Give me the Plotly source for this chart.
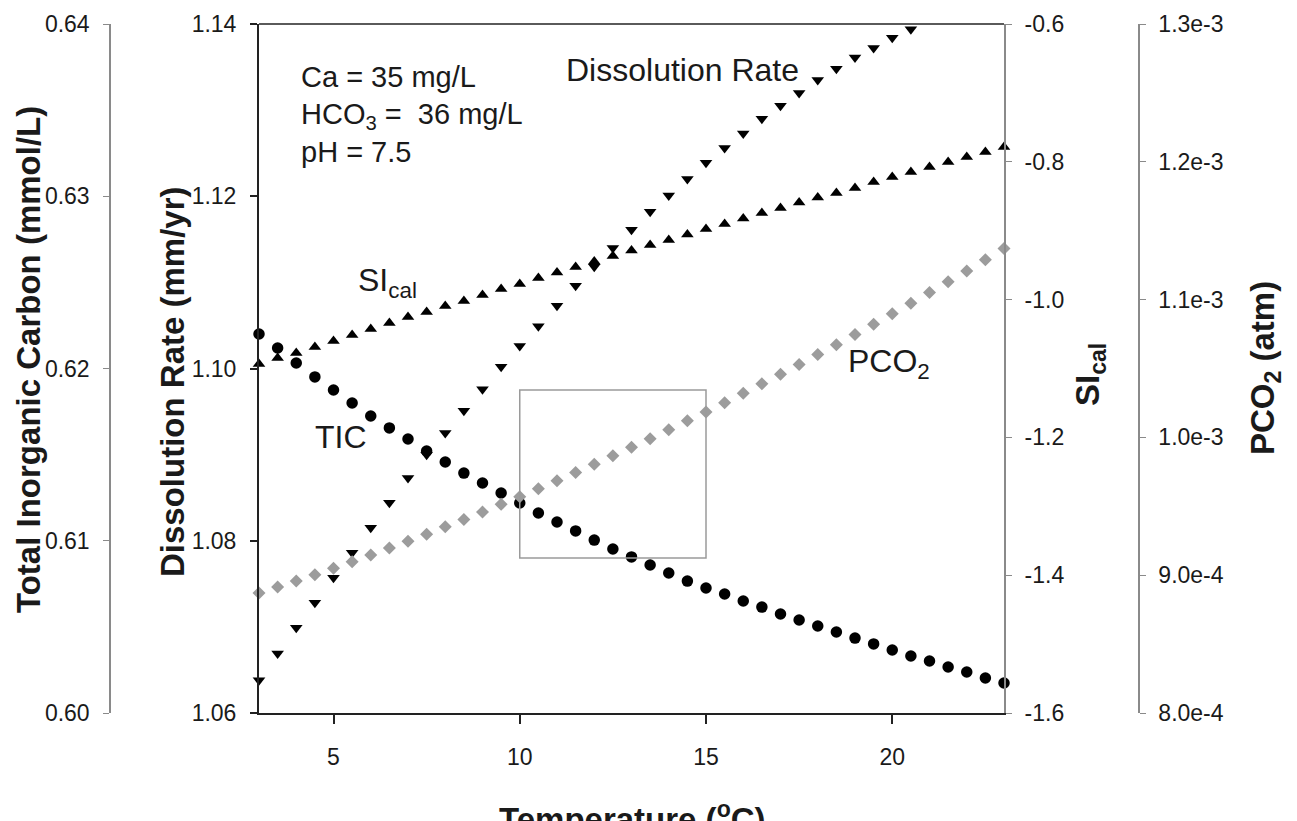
import plotly.graph_objects as go

# Temperature (deg C) of each modelled point
temp_c = [3.0, 3.5, 4.0, 4.5, 5.0, 5.5, 6.0, 6.5, 7.0, 7.5,
          8.0, 8.5, 9.0, 9.5, 10.0, 10.5, 11.0, 11.5, 12.0, 12.5,
          13.0, 13.5, 14.0, 14.5, 15.0, 15.5, 16.0, 16.5, 17.0, 17.5,
          18.0, 18.5, 19.0, 19.5, 20.0, 20.5, 21.0, 21.5, 22.0, 22.5, 23.0]

# Calcite dissolution rate (mm/yr); values above 1.14 fall off the axis
dissolution_rate = [1.0638, 1.0669, 1.0699, 1.0728, 1.0757, 1.0786, 1.0815, 1.0844,
                    1.0873, 1.0900, 1.0925, 1.0951, 1.0976, 1.1002, 1.1026, 1.1049,
                    1.1073, 1.1096, 1.1118, 1.1140, 1.1161, 1.1182, 1.1201, 1.1220,
                    1.1239, 1.1256, 1.1273, 1.1290, 1.1305, 1.1320, 1.1335, 1.1348,
                    1.1361, 1.1372, 1.1384, 1.1394]

# Total inorganic carbon (mmol/L)
tic = [0.62200, 0.62119, 0.62032, 0.61951, 0.61875, 0.61800, 0.61724, 0.61655,
       0.61591, 0.61521, 0.61457, 0.61393, 0.61335, 0.61277, 0.61219, 0.61161,
       0.61109, 0.61057, 0.61004, 0.60952, 0.60906, 0.60859, 0.60813, 0.60766,
       0.60726, 0.60691, 0.60650, 0.60615, 0.60575, 0.60540, 0.60505, 0.60470,
       0.60435, 0.60401, 0.60366, 0.60331, 0.60302, 0.60267, 0.60238, 0.60203,
       0.60174]

# Calcite saturation index
si_cal = [-1.0935, -1.0848, -1.0775, -1.0688, -1.0601, -1.0514, -1.0427, -1.0340,
          -1.0253, -1.0180, -1.0093, -1.0020, -0.9933, -0.9846, -0.9774, -0.9687,
          -0.9607, -0.9527, -0.9447, -0.9367, -0.9287, -0.9208, -0.9135, -0.9055,
          -0.8975, -0.8903, -0.8823, -0.8743, -0.8671, -0.8591, -0.8518, -0.8453,
          -0.8380, -0.8293, -0.8221, -0.8148, -0.8075, -0.8003, -0.7930, -0.7858,
          -0.7785]

# Partial pressure of CO2 (atm)
pco2 = [8.870e-4, 8.914e-4, 8.958e-4, 9.004e-4, 9.051e-4, 9.098e-4, 9.147e-4, 9.197e-4,
        9.247e-4, 9.298e-4, 9.351e-4, 9.404e-4, 9.458e-4, 9.514e-4, 9.570e-4, 9.627e-4,
        9.685e-4, 9.745e-4, 9.805e-4, 9.866e-4, 9.928e-4, 9.991e-4, 1.0055e-3, 1.0120e-3,
        1.0185e-3, 1.0252e-3, 1.0320e-3, 1.0389e-3, 1.0458e-3, 1.0529e-3, 1.0601e-3, 1.0673e-3,
        1.0747e-3, 1.0821e-3, 1.0897e-3, 1.0973e-3, 1.1051e-3, 1.1129e-3, 1.1208e-3, 1.1289e-3,
        1.1370e-3]

# Axis tick labels
x_ticks = [5, 10, 15, 20]
si_tickvals = [-1.6, -1.4, -1.2, -1.0, -0.8, -0.6]
si_ticktext = ["-1.6", "-1.4", "-1.2", "-1.0", "-0.8", "-0.6"]
pco2_tickvals = [8.0e-4, 9.0e-4, 1.0e-3, 1.1e-3, 1.2e-3, 1.3e-3]
pco2_ticktext = ["8.0e-4", "9.0e-4", "1.0e-3", "1.1e-3", "1.2e-3", "1.3e-3"]

# Highlighted temperature window (deg C) and its vertical extent on the rate axis
box_temp = (10, 15)
box_rate = (1.078, 1.0975)

W, H = 1297, 821
FONT = "Liberation Sans, Arial, sans-serif"
GRAY_AX = "#8a8a8a"
TXT = "#1a1a1a"

plot_l, plot_r = 259 / W, 1004 / W

fig = go.Figure()

fig.add_trace(go.Scatter(
    x=temp_c, y=pco2, yaxis="y4", mode="markers", cliponaxis=False,
    marker=dict(symbol="diamond", size=10, color="#9c9c9c"), name="PCO2"))
fig.add_trace(go.Scatter(
    x=temp_c[:len(dissolution_rate)], y=dissolution_rate, yaxis="y", mode="markers",
    cliponaxis=False,
    marker=dict(symbol="triangle-down", size=11, color="black"), name="Dissolution Rate"))
fig.add_trace(go.Scatter(
    x=temp_c, y=si_cal, yaxis="y3", mode="markers", cliponaxis=False,
    marker=dict(symbol="triangle-up", size=11, color="black"), name="SIcal"))
fig.add_trace(go.Scatter(
    x=temp_c, y=tic, yaxis="y2", mode="markers", cliponaxis=False,
    marker=dict(symbol="circle", size=11.5, color="black"), name="TIC"))

tickfont = dict(family=FONT, size=23, color=TXT)

fig.update_layout(
    width=W, height=H,
    margin=dict(l=0, r=0, t=24, b=108, autoexpand=False),
    paper_bgcolor="white", plot_bgcolor="white",
    showlegend=False,
    font=dict(family=FONT, color=TXT),
    xaxis=dict(domain=[plot_l, plot_r], range=[3, 23], tickvals=x_ticks,
               ticks="outside", ticklen=9, tickwidth=1.5, tickcolor="#222",
               showline=True, linecolor="#222", linewidth=2,
               showgrid=False, zeroline=False, tickfont=tickfont,
               ticklabelstandoff=13),
    yaxis=dict(range=[1.06, 1.14], dtick=0.02, tick0=1.06, tickformat=".2f",
               ticks="outside", ticklen=7, tickwidth=1.5, tickcolor="#222",
               showline=True, linecolor="#222", linewidth=2,
               showgrid=False, zeroline=False, tickfont=tickfont,
               ticklabelstandoff=9),
    yaxis2=dict(overlaying="y", anchor="free", position=110 / W, side="left",
                range=[0.60, 0.64], dtick=0.01, tick0=0.60, tickformat=".2f",
                ticks="outside", ticklen=6, tickwidth=1.2, tickcolor=GRAY_AX,
                showline=True, linecolor=GRAY_AX, linewidth=1.5,
                showgrid=False, zeroline=False, tickfont=tickfont,
                ticklabelstandoff=9),
    yaxis3=dict(overlaying="y", anchor="x", side="right",
                range=[-1.6, -0.6], tickvals=si_tickvals, ticktext=si_ticktext,
                ticks="outside", ticklen=6, tickwidth=1.2, tickcolor=GRAY_AX,
                showline=True, linecolor=GRAY_AX, linewidth=2,
                showgrid=False, zeroline=False, tickfont=tickfont,
                ticklabelstandoff=8),
    yaxis4=dict(overlaying="y", anchor="free", position=1139 / W, side="right",
                range=[8.0e-4, 1.3e-3], tickvals=pco2_tickvals, ticktext=pco2_ticktext,
                ticks="outside", ticklen=6, tickwidth=1.2, tickcolor=GRAY_AX,
                showline=True, linecolor=GRAY_AX, linewidth=1.5,
                showgrid=False, zeroline=False, tickfont=tickfont,
                ticklabelstandoff=8),
)

# frame line along the top of the plot area
fig.add_shape(type="line", xref="paper", yref="paper", x0=plot_l, x1=plot_r, y0=1, y1=1,
              line=dict(color="#5a5a5a", width=2))
# highlighted temperature window
fig.add_shape(type="rect", xref="x", yref="y", x0=box_temp[0], x1=box_temp[1],
              y0=box_rate[0], y1=box_rate[1], line=dict(color="#9a9a9a", width=1.5))

chem_font = dict(family=FONT, size=29, color=TXT)
label_font = dict(family=FONT, size=32, color=TXT)
title_font = dict(family=FONT, size=33, color=TXT, weight="bold")

def note(text, x, y, font, xanchor="left"):
    fig.add_annotation(text=text, x=x, y=y, xref="x", yref="y", xanchor=xanchor,
                       yanchor="middle", showarrow=False, font=font)

# water chemistry of the model solution
note("Ca = 35 mg/L", 4.07, 1.1339, chem_font)
note("HCO<sub>3</sub> =  36 mg/L", 4.07, 1.1293, chem_font)
note("pH = 7.5", 4.07, 1.1251, chem_font)

# series labels
note("Dissolution Rate", 11.2, 1.1347, label_font)
note("SI<sub>cal</sub>", 5.6, 1.1100, label_font)
note("TIC", 4.45, 1.0921, label_font)
note("PCO<sub>2</sub>", 19.9, 1.1006, label_font, xanchor="center")

def axis_title(text, px, py, angle=-90):
    fig.add_annotation(text=text, x=px / W, y=(713 - py) / 689, xref="paper", yref="paper",
                       xanchor="center", yanchor="middle", showarrow=False,
                       textangle=angle, font=title_font)

axis_title("Total Inorganic Carbon (mmol/L)", 28, 360)
axis_title("Dissolution Rate (mm/yr)", 172, 382)
axis_title("SI<sub>cal</sub>", 1090, 375)
axis_title("PCO<sub>2</sub> (atm)", 1265, 368)
axis_title("Temperature (<sup>o</sup>C)", 632, 817, angle=0)

fig.write_html("out.html")
